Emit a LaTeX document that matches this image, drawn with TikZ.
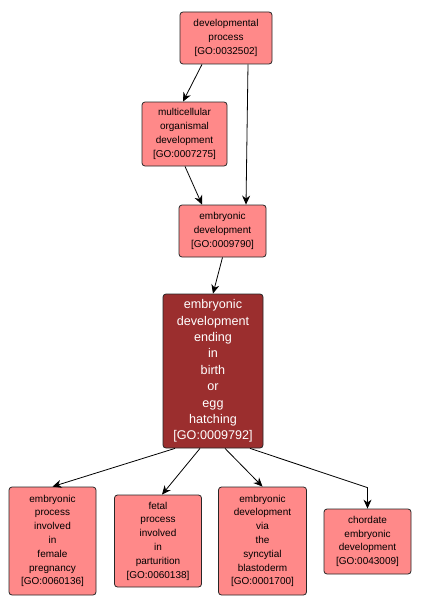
\documentclass[tikz,border=0pt]{standalone}
\usepackage{fontspec}
\setmainfont{Liberation Sans}
\usetikzlibrary{arrows.meta}
\definecolor{lightgo}{RGB}{255,137,137}
\definecolor{darkgo}{RGB}{155,46,46}
\begin{document}
\begin{tikzpicture}[x=1pt,y=-1pt,
  gobox/.style={draw=black!85,line width=0.8pt,rounded corners=3pt,fill=lightgo,
    align=center,inner sep=0pt,
    font=\fontsize{10pt}{13.8pt}\selectfont},
  godark/.style={gobox,fill=darkgo,text=white,
    font=\fontsize{12.6pt}{16.4pt}\selectfont},
  goarrow/.style={draw=black,line width=0.8pt,-{Stealth[length=9pt,width=8pt]}}]
\useasboundingbox (0,0) rectangle (421,610);
\node[gobox,minimum width=92pt,minimum height=52pt] (A) at (226,38) {developmental\\process\\{[GO:0032502]}};
\node[gobox,minimum width=85pt,minimum height=64pt] (B) at (184.5,134) {multicellular\\organismal\\development\\{[GO:0007275]}};
\node[gobox,minimum width=87pt,minimum height=52pt] (C) at (222.5,231) {embryonic\\development\\{[GO:0009790]}};
\node[godark,minimum width=100pt,minimum height=154pt] (D) at (213,371) {embryonic\\development\\ending\\in\\birth\\or\\egg\\hatching\\{[GO:0009792]}};
\node[gobox,minimum width=87pt,minimum height=108pt] (E1) at (52.5,541) {embryonic\\process\\involved\\in\\female\\pregnancy\\{[GO:0060136]}};
\node[gobox,minimum width=87pt,minimum height=92pt] (E2) at (158,541) {fetal\\process\\involved\\in\\parturition\\{[GO:0060138]}};
\node[gobox,minimum width=88pt,minimum height=108pt] (E3) at (262.5,541) {embryonic\\development\\via\\the\\syncytial\\blastoderm\\{[GO:0001700]}};
\node[gobox,minimum width=87pt,minimum height=65pt] (E4) at (367.5,541.5) {chordate\\embryonic\\development\\{[GO:0043009]}};
\draw[goarrow] ([xshift=-24pt]A.south) -- ([xshift=-1.5pt]B.north);
\draw[goarrow] ([xshift=22pt]A.south) -- ([xshift=23.5pt]C.north);
\draw[goarrow] ([xshift=0.5pt]B.south) -- ([xshift=-20.5pt]C.north);
\draw[goarrow] (C.south) -- (D.north);
\draw[goarrow] ([xshift=-38pt]D.south) -- (E1.north);
\draw[goarrow] ([xshift=-13pt]D.south) -- ([xshift=4pt]E2.north);
\draw[goarrow] ([xshift=12pt]D.south) -- (E3.north);
\draw[goarrow] ([xshift=37pt]D.south) -- ([yshift=21pt]E4.north) -- (E4.north);
\end{tikzpicture}
\end{document}
